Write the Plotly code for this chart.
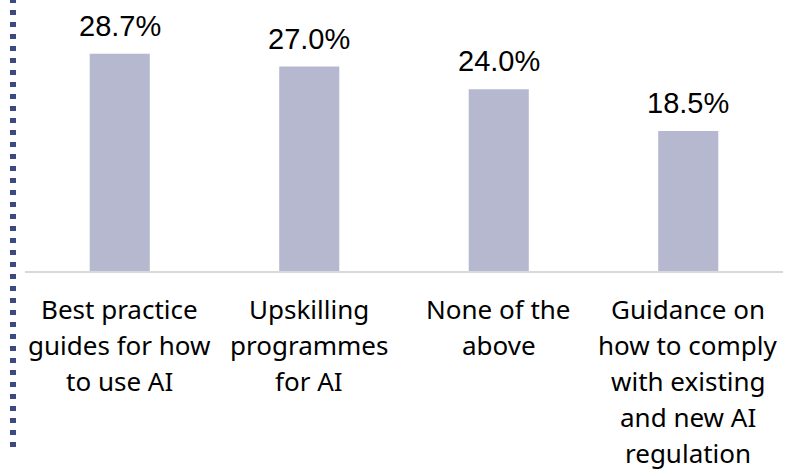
import plotly.graph_objects as go

categories = [
    "Best practice<br>guides for how<br>to use AI",
    "Upskilling<br>programmes<br>for AI",
    "None of the<br>above",
    "Guidance on<br>how to comply<br>with existing<br>and new AI<br>regulation",
]
values = [28.7, 27.0, 24.0, 18.5]
value_labels = ["28.7%", "27.0%", "24.0%", "18.5%"]

W, H = 808, 471
L, R, T, B = 25, 25, 6, 200
ph = H - T - B

CAT_FONT = 26
LINE_GAP = 36.1
FIRST_SHIFT = 17.5

fig = go.Figure()
fig.add_trace(go.Bar(
    x=categories, y=values,
    marker=dict(color="#b5b8cf", line=dict(width=0)),
    hoverinfo="skip",
))

for c, v, lab in zip(categories, values, value_labels):
    fig.add_annotation(
        x=c, y=v, text=lab, showarrow=False, yanchor="bottom",
        yshift=10, font=dict(family="Liberation Sans, Arial", size=29, color="#000000"),
    )

# category labels, one annotation per line for the reference's line spacing
for c in categories:
    for i, line in enumerate(c.split("<br>")):
        fig.add_annotation(
            x=c, xref="x", y=0, yref="paper", text=line, showarrow=False,
            yanchor="top", xanchor="center",
            yshift=-(FIRST_SHIFT + i * LINE_GAP),
            font=dict(family="Noto Sans", size=CAT_FONT, color="#000000"),
        )

# dotted left border
fig.add_shape(
    type="line", xref="paper", yref="paper",
    x0=(13 - L) / (W - L - R), x1=(13 - L) / (W - L - R),
    y0=1 + (T + 2) / ph, y1=1 - (447 - T) / ph,
    line=dict(color="#3d4a82", width=6, dash="5px,7px"),
)

fig.update_layout(
    width=W, height=H,
    margin=dict(l=L, r=R, t=T, b=B, autoexpand=False),
    paper_bgcolor="white", plot_bgcolor="white",
    bargap=0.683,
    showlegend=False,
    xaxis=dict(
        showline=True, linecolor="#d9d9d9", linewidth=2,
        showgrid=False, ticks="", showticklabels=False, automargin=False,
    ),
    yaxis=dict(range=[0, 35], visible=False, showgrid=False, zeroline=False),
)

fig.write_html("out.html")
